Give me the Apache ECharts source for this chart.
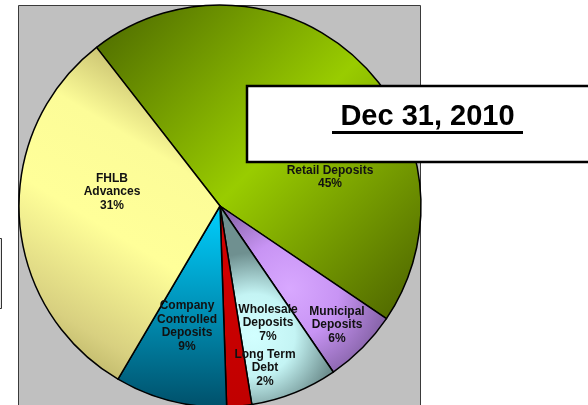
<!DOCTYPE html>
<html>
<head>
<meta charset="utf-8">
<script src="https://cdn.jsdelivr.net/npm/echarts@6/dist/echarts.min.js"></script>
<style>
  html, body { margin: 0; padding: 0; background: #ffffff; }
  #chart { width: 588px; height: 405px; }
</style>
</head>
<body>
<div id="chart"></div>
<script>
// Funding mix at year end (percent of total)
const categories = [
  'Retail Deposits',
  'Municipal\nDeposits',
  'Wholesale\nDeposits',
  'Long Term\nDebt',
  'Company\nControlled\nDeposits',
  'FHLB\nAdvances'
];
const shares = [45, 6, 7, 2, 9, 31];
const titleText = 'Dec 31, 2010';

// Where each slice's caption sits (pixel anchors, centre of the text block)
const labelAnchors = [[330, 177], [337, 325], [268, 323], [265, 368], [187, 326], [112, 192]];

// Shaded fills for each slice
function lin(x, y, x2, y2, stops) {
  return { type: 'linear', x: x, y: y, x2: x2, y2: y2,
    colorStops: stops.map(s => ({ offset: s[0], color: s[1] })) };
}
function rad(x, y, r, stops) {
  return { type: 'radial', x: x, y: y, r: r,
    colorStops: stops.map(s => ({ offset: s[0], color: s[1] })) };
}
const sliceFills = [
  lin(0, 0, 1, 1, [[0, '#4a6600'], [0.5, '#99cc00'], [1, '#4a6000']]),
  rad(0.42, 0.5, 0.65, [[0, '#d8a8ff'], [0.45, '#c894f4'], [1, '#7a5a9a']]),
  rad(0.3, 0.65, 0.72, [[0, '#d2ffff'], [0.5, '#c4f4f4'], [1, '#6f9090']]),
  lin(0, 0, 1, 1, [[0, '#d40000'], [1, '#c00000']]),
  lin(0, 0, 0, 1, [[0, '#00d0ff'], [0.45, '#0099c0'], [1, '#00506a']]),
  lin(0, 1, 1, 0, [[0, '#a09a50'], [0.2, '#d8d080'], [0.45, '#ffff99'], [0.68, '#fcfc98'], [0.85, '#c8c070'], [1, '#a8a058']])
];

const chart = echarts.init(document.getElementById('chart'), null, { renderer: 'canvas' });

chart.setOption({
  animation: false,
  backgroundColor: '#ffffff',
  graphic: [
    // plot area frame
    { type: 'rect', z: 0, shape: { x: 18.5, y: 5.5, width: 402, height: 430 },
      style: { fill: '#c0c0c0', stroke: '#3a3a3a', lineWidth: 1 } },
    // legend box edge at the far left
    { type: 'rect', z: 0, shape: { x: -20, y: 238.5, width: 21.5, height: 70 },
      style: { fill: '#e6e6e6', stroke: '#333333', lineWidth: 1 } },
    // date box
    { type: 'rect', z: 100, shape: { x: 247, y: 86, width: 360, height: 76 },
      style: { fill: '#ffffff', stroke: '#000000', lineWidth: 2.5 } },
    { type: 'text', z: 101, x: 427.5, y: 117,
      style: { text: titleText, fill: '#000000', align: 'center', verticalAlign: 'middle',
        font: 'bold 29px "Liberation Sans", Arial, sans-serif' } },
    { type: 'rect', z: 101, shape: { x: 332, y: 131, width: 191, height: 3 },
      style: { fill: '#000000' } }
  ],
  series: [{
    type: 'pie',
    z: 10,
    center: [220, 206],
    radius: 201,
    startAngle: 127.9,
    clockwise: true,
    avoidLabelOverlap: false,
    emphasis: { disabled: true },
    itemStyle: { borderColor: '#000000', borderWidth: 1.5 },
    label: {
      show: true,
      position: 'inside',
      formatter: p => p.name + '\n' + p.value + '%',
      color: '#111111',
      fontFamily: '"Liberation Sans", Arial, sans-serif',
      fontWeight: 'bold',
      fontSize: 12,
      lineHeight: 13.5,
      align: 'center'
    },
    labelLine: { show: false },
    labelLayout: function (p) {
      const a = labelAnchors[p.dataIndex];
      return { x: a[0], y: a[1], align: 'center', verticalAlign: 'middle' };
    },
    data: categories.map((c, i) => ({
      name: c,
      value: shares[i],
      itemStyle: { color: sliceFills[i] }
    }))
  }]
});
</script>
</body>
</html>
